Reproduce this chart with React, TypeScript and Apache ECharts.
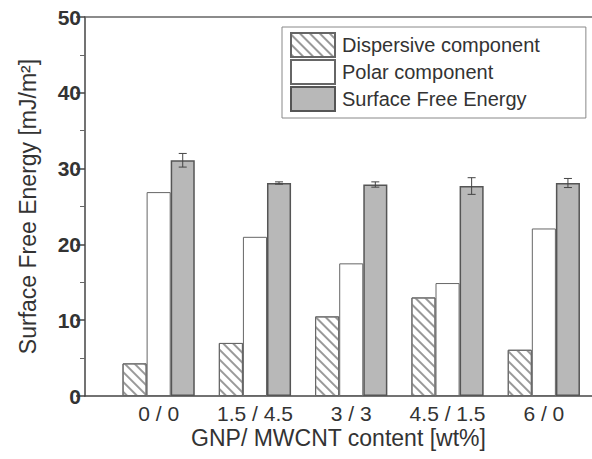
import React, { useEffect, useRef } from "react";
import * as echarts from "echarts";

const categories = ["0 / 0", "1.5 / 4.5", "3 / 3", "4.5 / 1.5", "6 / 0"];
const dispersive = [4.3, 7.0, 10.5, 13.0, 6.1];
const polar = [26.9, 21.0, 17.5, 14.9, 22.1];
const surfaceFreeEnergy = [31.1, 28.1, 27.9, 27.7, 28.1];
const sfeError = [0.9, 0.15, 0.35, 1.1, 0.6];
const seriesNames = ["Dispersive component", "Polar component", "Surface Free Energy"];

const FONT = "Liberation Sans, Arial, sans-serif";

export default function App() {
  const ref = useRef<HTMLDivElement>(null);
  useEffect(() => {
    if (!ref.current) return;
    const chart = echarts.init(ref.current, undefined, { renderer: "svg" });
    const errData = categories.map((_, i) => [i, surfaceFreeEnergy[i], sfeError[i]]);
    chart.setOption({
      animation: false,
      backgroundColor: "#fff",
      textStyle: { fontFamily: FONT },
      grid: [
        { left: 85, top: 17, width: 530, height: 379 },
        { left: 110.5, top: 17, width: 490, height: 379 },
      ],
      legend: {
        orient: "vertical",
        left: 282,
        top: 27,
        data: seriesNames,
        icon: "rect",
        itemWidth: 44,
        itemHeight: 24,
        itemGap: 1,
        padding: [5, 46, 6, 8],
        backgroundColor: "#fff",
        borderColor: "#888",
        borderWidth: 1,
        textStyle: { fontSize: 20, color: "#333", fontFamily: FONT, padding: [0, 0, 0, 2] },
      },
      xAxis: [
        {
          type: "value",
          gridIndex: 0,
          min: 0,
          max: 1,
          axisLine: { show: true, lineStyle: { color: "#444", width: 1.5 } },
          axisTick: { show: false },
          axisLabel: { show: false },
          splitLine: { show: false },
          name: "GNP/ MWCNT content [wt%]",
          nameLocation: "middle",
          nameGap: 30,
          nameTextStyle: { fontSize: 23, color: "#333", fontFamily: FONT },
        },
        {
          type: "value",
          gridIndex: 0,
          position: "top",
          min: 0,
          max: 1,
          axisLine: { show: true, lineStyle: { color: "#666", width: 1.5 } },
          axisTick: { show: false },
          axisLabel: { show: false },
          splitLine: { show: false },
        },
        {
          type: "category",
          gridIndex: 1,
          data: categories,
          axisLine: { show: false },
          axisTick: { show: false },
          axisLabel: { interval: 0, fontSize: 21, color: "#333", margin: 7, fontFamily: FONT },
        },
      ],
      yAxis: [
        {
          type: "value",
          gridIndex: 0,
          min: 0,
          max: 50,
          interval: 10,
          axisLine: { show: true, lineStyle: { color: "#444", width: 1.5 } },
          axisTick: { show: true, length: 9, lineStyle: { color: "#444", width: 1.5 } },
          minorTick: { show: true, splitNumber: 2, length: 5, lineStyle: { color: "#666" } },
          axisLabel: { fontSize: 21, fontWeight: "bold", color: "#333", margin: 4, fontFamily: FONT },
          splitLine: { show: false },
          name: "Surface Free Energy [mJ/m\u00B2]",
          nameLocation: "middle",
          nameRotate: 90,
          nameGap: 46,
          nameTextStyle: { fontSize: 23, color: "#333", fontFamily: FONT },
        },
        {
          type: "value",
          gridIndex: 1,
          min: 0,
          max: 50,
          interval: 10,
          show: false,
        },
      ],
      series: [
        {
          name: seriesNames[0],
          type: "bar",
          xAxisIndex: 2,
          yAxisIndex: 1,
          data: dispersive,
          barGap: "0%",
          barCategoryGap: "25%",
          itemStyle: {
            color: "#fff",
            borderColor: "#666",
            borderWidth: 1,
            decal: {
              symbol: "rect",
              symbolSize: 1,
              dashArrayX: [1, 0],
              dashArrayY: [1.1, 5],
              rotation: Math.PI / 4,
              color: "#999",
              backgroundColor: "#fff",
            },
          },
        },
        {
          name: seriesNames[1],
          type: "bar",
          xAxisIndex: 2,
          yAxisIndex: 1,
          data: polar,
          barGap: "0%",
          barCategoryGap: "25%",
          itemStyle: { color: "#fff", borderColor: "#666", borderWidth: 1 },
        },
        {
          name: seriesNames[2],
          type: "bar",
          xAxisIndex: 2,
          yAxisIndex: 1,
          data: surfaceFreeEnergy,
          barGap: "0%",
          barCategoryGap: "25%",
          itemStyle: { color: "#b8b8b8", borderColor: "#555", borderWidth: 1.5 },
        },
        {
          type: "custom",
          xAxisIndex: 2,
          yAxisIndex: 1,
          z: 10,
          data: errData,
          renderItem: (params: any, api: any) => {
            const i = api.value(0);
            const v = api.value(1);
            const e = api.value(2);
            const base = api.coord([i, v]);
            const bw = api.size([1, 0])[0];
            const x = base[0] + bw * 0.25;
            const top = api.coord([i, v + e])[1];
            const bot = api.coord([i, v - e])[1];
            const cap = 4;
            const st = { stroke: "#444", lineWidth: 1 };
            return {
              type: "group",
              children: [
                { type: "line", shape: { x1: x, y1: top, x2: x, y2: bot }, style: st },
                { type: "line", shape: { x1: x - cap, y1: top, x2: x + cap, y2: top }, style: st },
                { type: "line", shape: { x1: x - cap, y1: bot, x2: x + cap, y2: bot }, style: st },
              ],
            };
          },
        },
      ],
    });
    return () => chart.dispose();
  }, []);
  return (
    <div
      ref={ref}
      style={{ position: "fixed", left: 0, top: 0, width: 592, height: 459, overflow: "hidden" }}
    />
  );
}
